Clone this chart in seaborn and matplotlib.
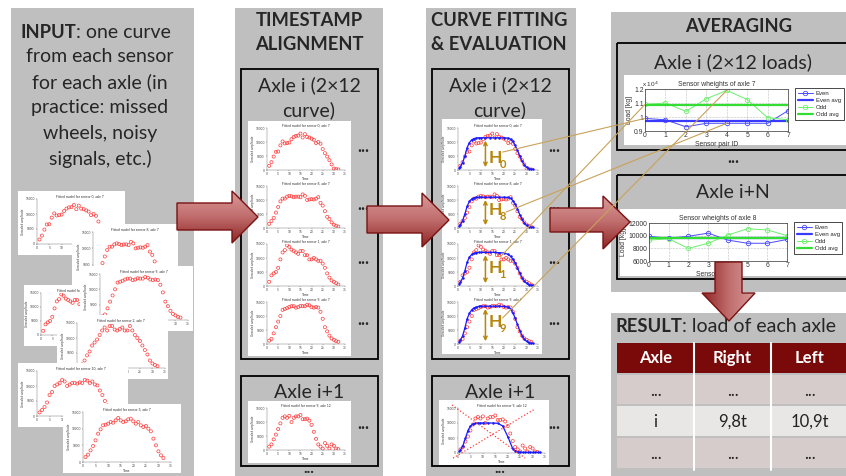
import matplotlib.pyplot as plt
import matplotlib.colors as mcolors
import seaborn as sns
import numpy as np
from matplotlib.patches import Rectangle, Polygon, ConnectionPatch
from matplotlib.ticker import FuncFormatter

sns.set_theme(style="white")
plt.rcParams['font.family'] = ['Lato', 'DejaVu Sans']

# ---- values ----
time_s = list(range(1, 33))
sensor0 = [1500, 2800, 4800, 6500, 6600, 8800, 10200, 9500, 9600, 9800, 11000, 11800, 12200, 12300, 13000, 11600,
           12800, 11800, 11600, 11200, 10800, 9600, 10000, 9400, 7500, 6000, 4800, 3500, 2000, 500, 300, 200]
sensor8 = [1500, 2500, 3600, 5500, 7500, 9500, 10500, 10500, 11200, 11500, 11300, 11000, 11200, 11200, 11000, 12000,
           11500, 10000, 10200, 10300, 10200, 10500, 11000, 9000, 8000, 6000, 4000, 3200, 2000, 1200, 800, 500]
sensor1 = [1500, 3800, 4500, 5000, 6500, 9500, 12000, 12800, 14500, 14000, 13000, 12500, 12000, 11500, 12500, 12500,
           11000, 11000, 9500, 9500, 10000, 9500, 9000, 9000, 8000, 6500, 4500, 3000, 2000, 1500, 1000, 500]
sensor9 = [1200, 1800, 3800, 6000, 8000, 10000, 12200, 12500, 12800, 13200, 13500, 13500, 13000, 13200, 13600, 13500,
           13500, 14000, 13800, 13200, 13000, 13200, 13000, 11500, 9000, 6000, 4500, 3000, 2000, 1500, 1000, 800]
sensor2 = [800, 1200, 2500, 4200, 5500, 7500, 8500, 9500, 11000, 12500, 13500, 12500, 14000, 14000, 12800, 12500,
           13000, 13500, 12500, 12500, 14000, 12500, 11000, 10000, 9000, 7500, 6000, 4500, 2500, 1500, 1000, 600]
sensor10 = [1200, 2000, 3000, 4500, 7000, 8000, 10000, 10500, 11000, 12000, 11500, 10000, 10500, 11000, 11000, 10800,
            11200, 11000, 12000, 11800, 11000, 11500, 10500, 10200, 8500, 7000, 5000, 3500, 2200, 1400, 900, 500]
sensor3 = [1500, 2200, 3500, 4800, 6500, 8500, 9800, 11000, 11200, 11500, 12000, 11800, 12500, 13200, 12500, 12000,
           12200, 12800, 13000, 12200, 11500, 12000, 11000, 10500, 10800, 10000, 9200, 7000, 5000, 3200, 2000, 1200]
sensor9_axle12 = [1200, 2000, 3800, 5500, 7500, 9500, 11500, 12000, 11500, 12200, 10000, 11500, 12000, 12000, 12500, 11000,
                  11000, 11200, 10500, 9000, 6500, 4000, 2000, 1200, 500, 2500, 1500, 500, 2000, 1500, 500, 300]

fit_t = [0.5, 1, 2, 3, 4, 5, 6, 7, 8, 9, 10, 12, 14, 16, 18, 20, 22, 23, 24, 25, 26, 27, 28, 29, 30, 31, 32, 33]
fit0 = [800, 1200, 2600, 5000, 8000, 9800, 10800, 11200, 11400, 11500, 11500, 11500, 11500, 11500, 11500, 11500,
        11400, 11000, 10200, 8800, 7000, 5000, 3200, 1900, 1000, 500, 300, 200]
fit8 = [800, 1200, 2600, 5000, 7800, 9500, 10400, 10800, 11000, 11000, 11000, 11000, 11000, 11000, 11000, 11000,
        10900, 10600, 9800, 8500, 6800, 4800, 3100, 1800, 1000, 500, 300, 200]
fit1 = [800, 1300, 2800, 5400, 8500, 10300, 11300, 11700, 11900, 12000, 12000, 12000, 12000, 12000, 11900, 11800,
        11300, 10600, 9600, 8200, 6500, 4600, 3000, 1800, 1000, 500, 300, 200]
fit9 = [800, 1300, 2900, 5700, 9000, 11000, 12200, 12900, 13200, 13400, 13500, 13500, 13500, 13500, 13500, 13400,
        13200, 12600, 11200, 9200, 7000, 4800, 3000, 1800, 1000, 500, 300, 200]
fit12 = [600, 1000, 2500, 5000, 7500, 9000, 9700, 9900, 10000, 10000, 10000, 10000, 10000, 9900, 9000, 5500,
         1500, 700, 400, 300, 200, 200, 200, 200, 200, 200, 200, 200]
reject_a_t, reject_a_v = [-2.4, 27], [16000, -1700]
reject_b_t, reject_b_v = [-2, 31], [-1700, 14700]

pair_id = [0, 1, 2, 3, 4, 5, 6, 7]
even7 = [9900, 9800, 9300, 9550, 9550, 9550, 9550, 10450]
odd7 = [10900, 11000, 10400, 11300, 11900, 11250, 9950, 9800]
even7_avg, odd7_avg = 9700, 10850
even8 = [9900, 9600, 9900, 10400, 9300, 8800, 8800, 9400]
odd8 = [9300, 9500, 8000, 8800, 10100, 11100, 10900, 10000]
even8_avg, odd8_avg = 9600, 9700

table_cols = ['Axle', 'Right', 'Left']
table_rows = [['...', '...', '...'], ['i', '9,8t', '10,9t'], ['...', '...', '...']]

# ---- canvas ----
W, H = 846, 476
fig = plt.figure(figsize=(8.46, 4.76), dpi=100)
fig.patch.set_facecolor('white')
bg = fig.add_axes([0, 0, 1, 1])
bg.set_xlim(0, W); bg.set_ylim(H, 0); bg.axis('off')

GREY = '#bfbfbf'
RED = '#ff3b3b'
GOLD = '#b8860b'
TS = 14        # regular heading text
TB = 13.2      # bold heading text
SMALL = 'Liberation Sans'


def px_axes(x0, y0, x1, y1):
    return fig.add_axes([x0 / W, 1 - y1 / H, (x1 - x0) / W, (y1 - y0) / H])


def card(x0, y0, x1, y1):
    a = px_axes(x0, y0, x1, y1)
    a.set_facecolor('white')
    a.set_xticks([]); a.set_yticks([])
    for s in a.spines.values():
        s.set_visible(False)
    return a


def curve_plot(x0, y0, x1, y1, title, vals, fit=None):
    ax = px_axes(x0, y0, x1, y1)
    ax.set_facecolor('none')
    sns.scatterplot(x=time_s, y=vals, ax=ax, s=5, marker='o', legend=False, zorder=3)
    pts = ax.collections[-1]
    pts.set_facecolor('none'); pts.set_edgecolor(RED); pts.set_linewidth(0.5)
    if fit is not None:
        sns.lineplot(x=fit_t, y=fit, ax=ax, color='#1a1aff', lw=0.9, marker='.', ms=2, mec='#1a1aff', zorder=4)
    ax.set_xlim(0, 35); ax.set_ylim(0, 15000)
    ax.set_xticks(range(0, 36, 5)); ax.set_yticks([0, 5000, 10000, 15000])
    ax.tick_params(labelsize=2.3, length=1, width=0.3, pad=0.6, colors='#444', left=True, bottom=True)
    for s in ['top', 'right']:
        ax.spines[s].set_visible(False)
    for s in ['left', 'bottom']:
        ax.spines[s].set_linewidth(0.3); ax.spines[s].set_color('#666')
    ax.set_title(title, fontsize=2.4, pad=1.2, color='#333')
    ax.set_xlabel('Time', fontsize=2.4, labelpad=0.4, color='#333')
    ax.set_ylabel('Unscaled amplitude', fontsize=2.2, labelpad=0.6, color='#333')
    return ax


# ---- grey panels and boxes ----
for x0, y0, x1, y1 in [(11, 8, 194, 476), (235, 8, 383, 476), (426, 8, 576, 476), (611, 12, 846, 292),
                       (611, 313, 846, 476)]:
    bg.add_patch(Rectangle((x0, y0), x1 - x0, y1 - y0, fc=GREY, ec='none'))
for x0, y0, x1, y1 in [(241, 69, 378, 359), (241, 376, 378, 466), (432, 69, 569, 359), (432, 376, 569, 466),
                       (617, 43, 850, 150), (617, 175, 850, 279)]:
    bg.add_patch(Rectangle((x0, y0), x1 - x0, y1 - y0, fc='none', ec='black', lw=1.3))

# ---- headings ----
bg.text(76, 32, 'INPUT', ha='right', va='center', fontsize=TB, fontweight='bold')
bg.text(76, 32, ': one curve', ha='left', va='center', fontsize=TS)
for i, line in enumerate(['from each sensor', 'for each axle (in', 'practice: missed', 'wheels, noisy',
                          'signals, etc.)']):
    bg.text(100, 57 + i * 25.5, line, ha='center', va='center', fontsize=TS)
bg.text(309, 20, 'TIMESTAMP', ha='center', va='center', fontsize=TB, fontweight='bold')
bg.text(309, 45, 'ALIGNMENT', ha='center', va='center', fontsize=TB, fontweight='bold')
bg.text(499, 20, 'CURVE FITTING', ha='center', va='center', fontsize=TB, fontweight='bold')
bg.text(499, 45, '& EVALUATION', ha='center', va='center', fontsize=TB, fontweight='bold')
bg.text(739, 27, 'AVERAGING', ha='center', va='center', fontsize=TB, fontweight='bold')
for cx in [309, 500]:
    bg.text(cx, 85, 'Axle i (2×12', ha='center', va='center', fontsize=TS)
    bg.text(cx, 110, 'curve)', ha='center', va='center', fontsize=TS)
    bg.text(cx, 392, 'Axle i+1', ha='center', va='center', fontsize=TS)
    bg.text(cx, 469, '...', ha='center', va='center', fontsize=11, fontweight='bold')
bg.text(733, 62, 'Axle i (2×12 loads)', ha='center', va='center', fontsize=TS)
bg.text(733, 193, 'Axle i+N', ha='center', va='center', fontsize=TS)
bg.text(733, 158, '...', ha='center', va='center', fontsize=12, fontweight='bold')
for dx in [363, 554]:
    for dy in [147, 205, 259, 320, 424]:
        bg.text(dx, dy, '...', ha='center', va='center', fontsize=12, fontweight='bold')
bg.text(682, 326, 'RESULT', ha='right', va='center', fontsize=TB, fontweight='bold')
bg.text(682, 326, ': load of each axle', ha='left', va='center', fontsize=TS)

# ---- result table ----
col_x = [617, 694, 771, 848]
bg.add_patch(Rectangle((617, 343), 231, 30, fc='#7a0a0a', ec='none'))
for j, c in enumerate(table_cols):
    bg.text((col_x[j] + col_x[j + 1]) / 2, 358, c, ha='center', va='center', fontsize=12, fontweight='bold',
            color='white')
row_y = [375, 406, 438, 470]
row_c = ['#d6cccc', '#e9e6e6', '#d6cccc']
for i, row in enumerate(table_rows):
    bg.add_patch(Rectangle((617, row_y[i]), 231, row_y[i + 1] - row_y[i] - 2, fc=row_c[i], ec='none'))
    for j, c in enumerate(row):
        bg.text((col_x[j] + col_x[j + 1]) / 2, (row_y[i] + row_y[i + 1]) / 2, c, ha='center', va='center',
                fontsize=12, color='#222')
for x in col_x[1:3]:
    bg.plot([x, x], [343, 470], color='white', lw=1.5)

# ---- panel 1: stacked input thumbnails ----
inputs = [((18, 191, 125, 255), 37, 'Fitted model for sensor 0, axle 7', sensor0),
          ((72, 224, 178, 292), 93, 'Fitted model for sensor 8, axle 7', sensor8),
          ((24, 285, 122, 346), 41, 'Fitted model for sensor 1, axle 7', sensor1),
          ((80, 266, 193, 331), 100, 'Fitted model for sensor 9, axle 7', sensor9),
          ((57, 315, 168, 379), 77, 'Fitted model for sensor 2, axle 7', sensor2),
          ((18, 363, 128, 427), 37, 'Fitted model for sensor 10, axle 7', sensor10),
          ((63, 404, 181, 473), 83, 'Fitted model for sensor 3, axle 7', sensor3)]
for (x0, y0, x1, y1), axl, title, vals in inputs:
    card(x0, y0, x1, y1)
    curve_plot(axl, y0 + 8, min(x1 - 2, axl + 88), y1 - 11, title, vals)

# ---- panel 2 and 3: aligned and fitted curves ----
stack = [('Fitted model for sensor 0, axle 7', sensor0, fit0),
         ('Fitted model for sensor 8, axle 7', sensor8, fit8),
         ('Fitted model for sensor 1, axle 7', sensor1, fit1),
         ('Fitted model for sensor 9, axle 7', sensor9, fit9)]
tops = [128, 186, 244, 302]
card(248, 121, 351, 356)
card(442, 119, 542, 354)
fitted_axes = []
for k, (title, vals, fit) in enumerate(stack):
    curve_plot(267, tops[k], 345, tops[k] + 42, title, vals)
    fitted_axes.append(curve_plot(458, tops[k], 538, tops[k] + 42, title, vals, fit))
card(248, 401, 351, 463)
curve_plot(267, 408, 345, 450, 'Fitted model for sensor 9, axle 12', sensor9_axle12)
card(439, 400, 549, 465)
ax12 = curve_plot(458, 408, 545, 453, 'Fitted model for sensor 9, axle 12', sensor9_axle12, fit12)
for tt, vv in [(reject_a_t, reject_a_v), (reject_b_t, reject_b_v)]:
    ax12.plot(tt, vv, color=RED, lw=0.9, ls=':', clip_on=False, zorder=5)

h_names = ['0', '8', '1', '9']
h_label_y = [4300, 6400, 6400, 7900]
for ax, fit, nm, ly in zip(fitted_axes, [fit0, fit8, fit1, fit9], h_names, h_label_y):
    ax.annotate('', xy=(12, max(fit)), xytext=(12, 0),
                arrowprops=dict(arrowstyle='<->', color=GOLD, lw=1.1, mutation_scale=6), zorder=6)
    ax.text(13.3, ly, 'H', fontsize=12.5, color=GOLD, fontweight='bold', va='center', ha='left', zorder=6)
    ax.text(18.2, ly - 2300, nm, fontsize=8, color=GOLD, fontweight='bold', va='center', ha='left', zorder=6)


# ---- averaging charts ----
def load_chart(x0, y0, x1, y1, title, even, even_avg, odd, odd_avg, ylim, yticks, fmt):
    ax = px_axes(x0, y0, x1, y1)
    ax.set_facecolor('white')
    sns.lineplot(x=pair_id, y=even, ax=ax, color='#4b4bff', lw=0.7, marker='o', ms=3.2, mfc='none',
                 mec='#4b4bff', mew=0.6, label='Even')
    sns.lineplot(x=pair_id, y=[even_avg] * len(pair_id), ax=ax, color='#3a3aff', lw=1.6, label='Even avg')
    sns.lineplot(x=pair_id, y=odd, ax=ax, color='#6cf06c', lw=0.7, marker='o', ms=3.2, mfc='none',
                 mec='#6cf06c', mew=0.6, label='Odd')
    sns.lineplot(x=pair_id, y=[odd_avg] * len(pair_id), ax=ax, color='#33dd33', lw=1.6, label='Odd avg')
    ax.set_xlim(0, 7); ax.set_ylim(*ylim)
    ax.set_xticks(pair_id); ax.set_yticks(yticks)
    ax.yaxis.set_major_formatter(FuncFormatter(fmt))
    ax.grid(True, ls=':', lw=0.4, color='#888')
    for s in ax.spines.values():
        s.set_linewidth(0.5); s.set_color('#333'); s.set_visible(True)
    ax.tick_params(labelsize=4.9, length=1.5, width=0.4, pad=1, direction='in', colors='#333')
    ax.set_title(title, fontsize=4.9, pad=2, color='#333', family=SMALL)
    ax.set_xlabel('Sensor pair ID', fontsize=4.9, labelpad=1, color='#333', family=SMALL)
    ax.set_ylabel('Load [kg]', fontsize=4.9, labelpad=1, color='#333', family=SMALL)
    for lab in ax.get_xticklabels() + ax.get_yticklabels():
        lab.set_family(SMALL)
    leg = ax.legend(loc='upper left', bbox_to_anchor=(1.05, 1.02), frameon=True, fancybox=False,
                    edgecolor='black', framealpha=1, handlelength=2.5, handletextpad=0.5, borderpad=0.45,
                    labelspacing=0.3, borderaxespad=0, prop={'family': SMALL, 'size': 4.3})
    leg.get_frame().set_linewidth(0.5)
    return ax


card(624, 75, 846, 145)
chart7 = load_chart(645, 89, 788, 131, 'Sensor wheights of axle 7', even7, even7_avg, odd7, odd7_avg,
                    (9000, 12000), [9000, 10000, 11000, 12000], lambda v, _: f'{v / 1e4:g}')
chart7.text(-0.02, 1.06, 'x 10$^4$', transform=chart7.transAxes, fontsize=4.6, color='#333', family=SMALL)
card(620, 209, 846, 276)
chart8 = load_chart(649, 223, 787, 261, 'Sensor wheights of axle 8', even8, even8_avg, odd8, odd8_avg,
                    (6000, 12000), [6000, 8000, 10000, 12000], lambda v, _: f'{v:.0f}')

# ---- overlay: arrows and links ----
top = fig.add_axes([0, 0, 1, 1])
top.set_zorder(10)
top.patch.set_visible(False)
top.axis('off')
arrow_cmap = mcolors.LinearSegmentedColormap.from_list('arr', ['#d99a9a', '#c06c6c', '#8e2424'])


def big_arrow(verts, sideways=False):
    poly = Polygon(verts, closed=True, fc='none', ec='#7a1212', lw=1.0, zorder=3)
    top.add_patch(poly)
    xs, ys = zip(*verts)
    g = np.linspace(0, 1, 128)
    img = g[None, ::-1] if sideways else g[:, None]
    im = top.imshow(img, cmap=arrow_cmap, extent=(min(xs), max(xs), max(ys), min(ys)), aspect='auto', zorder=2)
    im.set_clip_path(poly)


big_arrow([(177, 203), (232, 203), (232, 191), (258, 217), (232, 243), (232, 230), (177, 230)])
big_arrow([(367, 206), (422, 206), (422, 193), (449, 220), (422, 247), (422, 233), (367, 233)])
big_arrow([(550, 208), (603, 208), (603, 196), (630, 222), (603, 249), (603, 232), (550, 232)])
big_arrow([(715, 262), (742, 262), (742, 293), (755, 293), (729, 321), (702, 293), (715, 293)], sideways=True)
top.set_xlim(0, W); top.set_ylim(H, 0)

# H label -> sensor load point: (fitted plot, start t, start value, pair id, even/odd values)
links = [(0, 19.5, 6400, 0, even7), (1, 21.0, 5700, 4, even7),
         (2, 18.5, 10400, 0, odd7), (3, 19.5, 9300, 4, odd7)]
for k, lt, lv, pid, series in links:
    con = ConnectionPatch(xyA=(lt, lv), coordsA=fitted_axes[k].transData, xyB=(pid, series[pid]),
                          coordsB=chart7.transData, color='#c9a25a', lw=0.8, zorder=20)
    fig.add_artist(con)

fig.savefig('out.png', dpi=100)
